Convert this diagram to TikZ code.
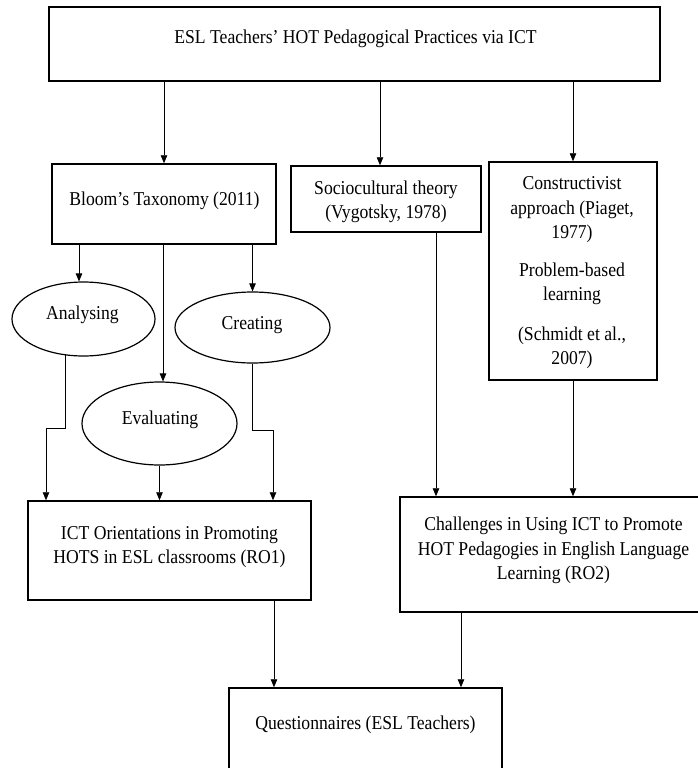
\documentclass[tikz,border=0pt]{standalone}
\usepackage{fontspec}
\setmainfont[FakeStretch=0.9]{Liberation Serif}
\usetikzlibrary{arrows.meta,shapes.geometric}
\begin{document}
\begin{tikzpicture}[x=1pt,y=-1pt,
  rbox/.style={draw=black,line width=1.5pt,rectangle,inner sep=0pt},
  oval/.style={draw=black,line width=1.2pt,ellipse,inner sep=0pt},
  txt/.style={font=\fontsize{19.6}{24.5}\selectfont,align=center,inner sep=0pt,anchor=base},
  arr/.style={draw=black,line width=0.8pt,-{Triangle[length=8pt,width=6.5pt]}}]
\clip (0,0) rectangle (698,768);
\fill[white] (0,0) rectangle (698,768);

% boxes
\node[rbox,minimum width=611pt,minimum height=74pt] (top) at (354.5,44) {};
\node[rbox,minimum width=224pt,minimum height=80pt] (bloom) at (164,204) {};
\node[rbox,minimum width=190pt,minimum height=66pt] (socio) at (386,199) {};
\node[rbox,minimum width=168pt,minimum height=218pt] (cons) at (573,271) {};
\node[rbox,minimum width=283pt,minimum height=99pt] (ict) at (169.5,550.5) {};
\node[rbox,minimum width=306pt,minimum height=115pt] (ch) at (553,554.5) {};
\node[rbox,minimum width=273pt,minimum height=88pt] (q) at (365.5,732) {};
% ellipses
\node[oval,minimum width=143pt,minimum height=74pt] (an) at (83.5,319) {};
\node[oval,minimum width=155pt,minimum height=71pt] (cr) at (252.5,327.5) {};
\node[oval,minimum width=155pt,minimum height=83pt] (ev) at (159.5,423.5) {};

% texts (anchor=base: baseline of the last line)
\node[txt] (top-t) at (355.5,44) {ESL Teachers’ HOT Pedagogical Practices via ICT};
\node[txt] (bloom-t) at (164.5,205.5) {Bloom’s Taxonomy (2011)};
\node[txt] (socio-t) at (386,218.5) {Sociocultural theory\\(Vygotsky, 1978)};
\node[txt] (cons-t) at (572,364.5) {Constructivist\\approach (Piaget,\\1977)\\[13pt]Problem-based\\learning\\[15pt](Schmidt et al.,\\2007)};
\node[txt] (ict-t) at (169.5,563.5) {ICT Orientations in Promoting\\HOTS in ESL classrooms (RO1)};
\node[txt] (ch-t) at (553.5,579.5) {Challenges in Using ICT to Promote\\HOT Pedagogies in English Language\\Learning (RO2)};
\node[txt] (q-t) at (365.5,729.5) {Questionnaires (ESL Teachers)};
\node[txt] (an-t) at (82.5,319) {Analysing};
\node[txt] (cr-t) at (252,329) {Creating};
\node[txt] (ev-t) at (160,424) {Evaluating};

% helper coordinates
\coordinate (xs) at (380,0);
\coordinate (xa) at (79,0);
\coordinate (xe) at (163,0);
\coordinate (xv) at (436,0);
\coordinate (xi) at (274,0);
\coordinate (xc) at (461,0);
\coordinate (j1) at (46,428);
\coordinate (j2) at (273,430);

% connectors
\draw[arr] (top.south -| bloom.north) -- (bloom.north);
\draw[arr] (top.south -| xs) -- (socio.north -| xs);
\draw[arr] (top.south -| cons.north) -- (cons.north);
\draw[arr] (bloom.south -| xa) -- (an.north -| xa);
\draw[arr] (bloom.south -| xe) -- (ev.north -| xe);
\draw[arr] (bloom.south -| cr.north) -- (cr.north);
\draw[arr] (an.243) |- (j1) -- (ict.north -| j1);
\draw[arr] (ev.south) -- (ict.north -| ev.south);
\draw[arr] (cr.south) |- (j2) -- (ict.north -| j2);
\draw[arr] (socio.south -| xv) -- (ch.north -| xv);
\draw[arr] (cons.south) -- (ch.north -| cons.south);
\draw[arr] (ict.south -| xi) -- (q.north -| xi);
\draw[arr] (ch.south -| xc) -- (q.north -| xc);
\end{tikzpicture}
\end{document}
